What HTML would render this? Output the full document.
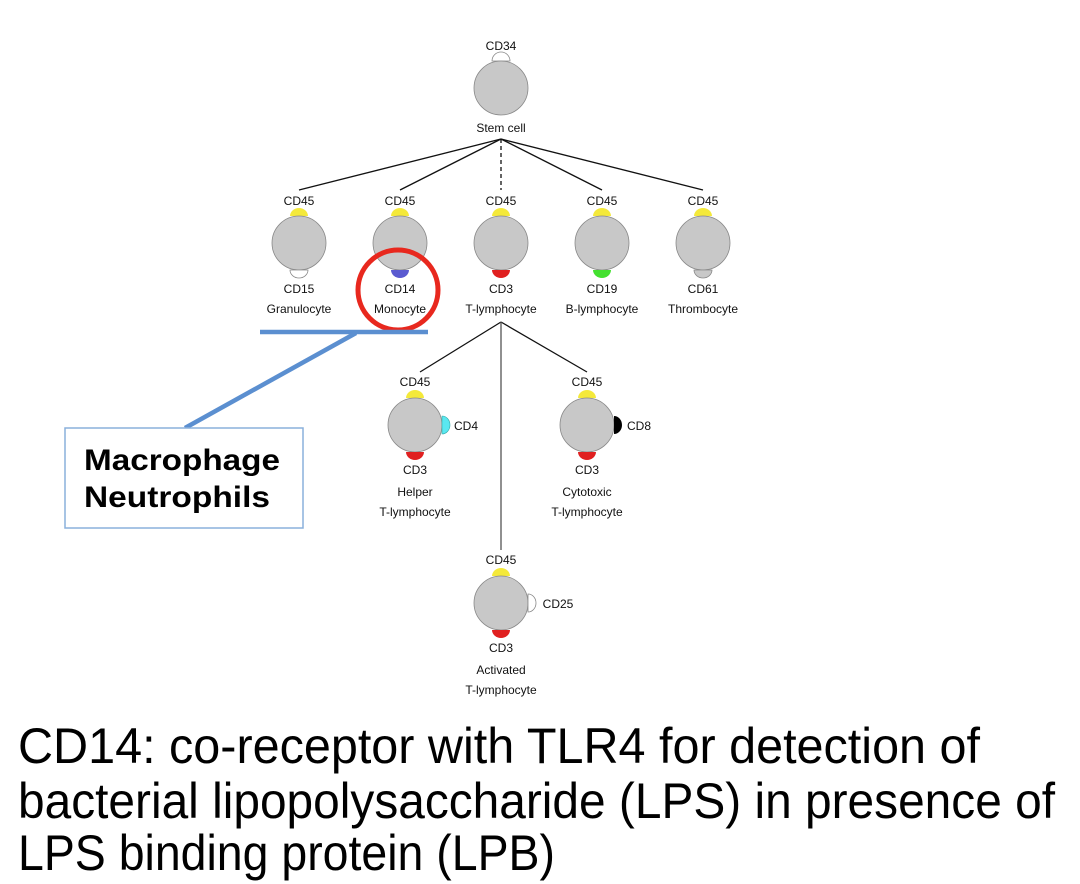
<!DOCTYPE html>
<html><head><meta charset="utf-8"><style>
html,body{margin:0;padding:0;background:#fff;}
svg{display:block;}
text{font-family:"Liberation Sans",sans-serif;}
</style></head><body>
<svg width="1080" height="884" viewBox="0 0 1080 884" xmlns="http://www.w3.org/2000/svg">
<defs>
<g id="cell">
<circle cx="0" cy="0" r="27" fill="#c8c8c8" stroke="#888" stroke-width="0.8"/>
</g>
</defs>
<g stroke="#111" stroke-width="1.3" fill="none">
<line x1="501" y1="139" x2="299" y2="190"/>
<line x1="501" y1="139" x2="400" y2="190"/>
<line x1="501" y1="139" x2="501" y2="190" stroke-dasharray="4,3"/>
<line x1="501" y1="139" x2="602" y2="190"/>
<line x1="501" y1="139" x2="703" y2="190"/>
<line x1="501" y1="322" x2="420" y2="372"/>
<line x1="501" y1="322" x2="587" y2="372"/>
<line x1="501" y1="322" x2="501" y2="550" stroke="#555"/>
</g>
<g font-size="12" fill="#111" text-anchor="middle">
<text x="501" y="50">CD34</text>
<path d="M492,61 a9,9 0 0 1 18,0 z" fill="#fff" stroke="#888" stroke-width="0.8"/>
<use href="#cell" x="501" y="88"/>
<text x="501" y="132">Stem cell</text>

<g>
<text x="299" y="205">CD45</text>
<path d="M290,216 a9,8 0 0 1 18,0 z" fill="#f4e93a"/>
<use href="#cell" x="299" y="243"/>
<path d="M290,270 a9,8 0 0 0 18,0 z" fill="#fff" stroke="#888" stroke-width="0.8"/>
<text x="299" y="293">CD15</text>
<text x="299" y="313">Granulocyte</text>
</g>
<g>
<text x="400" y="205">CD45</text>
<path d="M391,216 a9,8 0 0 1 18,0 z" fill="#f4e93a"/>
<use href="#cell" x="400" y="243"/>
<path d="M391,270 a9,8 0 0 0 18,0 z" fill="#5a5ad0"/>
<text x="400" y="293">CD14</text>
<text x="400" y="313">Monocyte</text>
</g>
<g>
<text x="501" y="205">CD45</text>
<path d="M492,216 a9,8 0 0 1 18,0 z" fill="#f4e93a"/>
<use href="#cell" x="501" y="243"/>
<path d="M492,270 a9,8 0 0 0 18,0 z" fill="#e02020"/>
<text x="501" y="293">CD3</text>
<text x="501" y="313">T-lymphocyte</text>
</g>
<g>
<text x="602" y="205">CD45</text>
<path d="M593,216 a9,8 0 0 1 18,0 z" fill="#f4e93a"/>
<use href="#cell" x="602" y="243"/>
<path d="M593,270 a9,8 0 0 0 18,0 z" fill="#44e030"/>
<text x="602" y="293">CD19</text>
<text x="602" y="313">B-lymphocyte</text>
</g>
<g>
<text x="703" y="205">CD45</text>
<path d="M694,216 a9,8 0 0 1 18,0 z" fill="#f4e93a"/>
<use href="#cell" x="703" y="243"/>
<path d="M694,270 a9,8 0 0 0 18,0 z" fill="#c8c8c8" stroke="#888" stroke-width="0.8"/>
<text x="703" y="293">CD61</text>
<text x="703" y="313">Thrombocyte</text>
</g>

<text x="415" y="386">CD45</text>
<path d="M406,398 a9,8 0 0 1 18,0 z" fill="#f4e93a"/>
<use href="#cell" x="415" y="425"/>
<path d="M442,416 a8,9 0 0 1 0,18 z" fill="#5ae8f0" stroke="#3aa" stroke-width="0.6"/>
<text x="466" y="430">CD4</text>
<path d="M406,452 a9,8 0 0 0 18,0 z" fill="#e02020"/>
<text x="415" y="474">CD3</text>
<text x="415" y="496">Helper</text>
<text x="415" y="516">T-lymphocyte</text>

<text x="587" y="386">CD45</text>
<path d="M578,398 a9,8 0 0 1 18,0 z" fill="#f4e93a"/>
<use href="#cell" x="587" y="425"/>
<path d="M614,416 a8,9 0 0 1 0,18 z" fill="#000"/>
<text x="639" y="430">CD8</text>
<path d="M578,452 a9,8 0 0 0 18,0 z" fill="#e02020"/>
<text x="587" y="474">CD3</text>
<text x="587" y="496">Cytotoxic</text>
<text x="587" y="516">T-lymphocyte</text>

<text x="501" y="564">CD45</text>
<path d="M492,576 a9,8 0 0 1 18,0 z" fill="#f4e93a"/>
<use href="#cell" x="501" y="603"/>
<path d="M528,594 a8,9 0 0 1 0,18 z" fill="#fff" stroke="#888" stroke-width="0.8"/>
<text x="558" y="608">CD25</text>
<path d="M492,630 a9,8 0 0 0 18,0 z" fill="#e02020"/>
<text x="501" y="652">CD3</text>
<text x="501" y="674">Activated</text>
<text x="501" y="694">T-lymphocyte</text>
</g>

<circle cx="398" cy="290" r="40" fill="none" stroke="#e8281e" stroke-width="5"/>

<g stroke="#5b8fd0" stroke-width="4.5" fill="none">
<line x1="260" y1="332" x2="428" y2="332"/>
<line x1="356" y1="333" x2="185" y2="428"/>
</g>
<rect x="65" y="428" width="238" height="100" fill="#fff" stroke="#8ab0dc" stroke-width="1.5"/>
<text x="84" y="470" font-size="30" font-weight="bold" fill="#000" textLength="196" lengthAdjust="spacingAndGlyphs">Macrophage</text>
<text x="84" y="507" font-size="30" font-weight="bold" fill="#000" textLength="186" lengthAdjust="spacingAndGlyphs">Neutrophils</text>

<g font-size="50" fill="#000">
<text x="18" y="763" textLength="962" lengthAdjust="spacingAndGlyphs">CD14: co-receptor with TLR4 for detection of</text>
<text x="18" y="818" textLength="1037" lengthAdjust="spacingAndGlyphs">bacterial lipopolysaccharide (LPS) in presence of</text>
<text x="18" y="870" textLength="537" lengthAdjust="spacingAndGlyphs">LPS binding protein (LPB)</text>
</g>
</svg>
</body></html>
